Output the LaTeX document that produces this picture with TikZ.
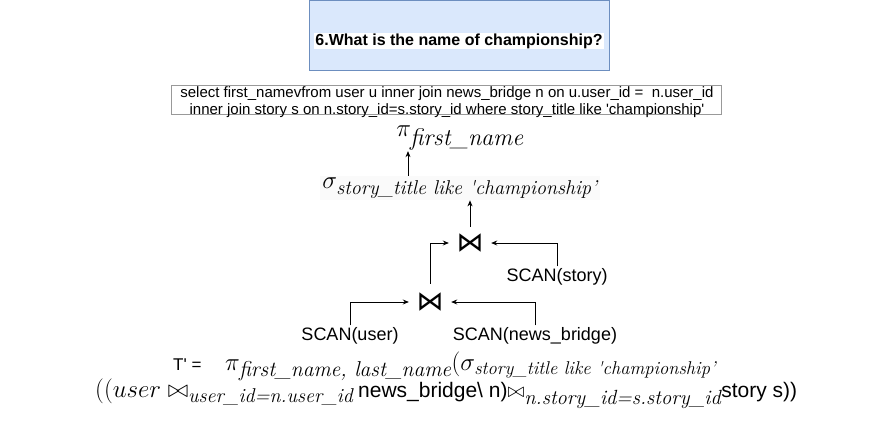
\documentclass[tikz,border=0pt]{standalone}
\usepackage{amssymb, amsmath}
\usepackage{fontspec}
\setsansfont{Liberation Sans}
\newfontfamily\joinfont{DejaVu Sans}
\usetikzlibrary{arrows.meta}
\definecolor{qfill}{HTML}{DAE8FC}
\definecolor{qline}{HTML}{6C8EBF}
% italic subscript text at a given size
\newcommand{\itsub}[2]{\hbox{\fontsize{#1}{#1}\selectfont\normalfont\itshape #2}}

\begin{document}
\begin{tikzpicture}[x=1pt, y=1pt,
  scanlbl/.style={font=\sffamily\fontsize{18}{20}\selectfont, inner sep=2pt},
  joinop/.style={font=\joinfont\fontsize{27}{27}\selectfont, inner sep=0pt, minimum width=42pt},
  flow/.style={-{Stealth[length=6pt, width=5pt]}, line width=0.8pt}]
\useasboundingbox (0,0) rectangle (891,-439);

%%%  nodes

% question
\node [draw=qline, fill=qfill, minimum width=300pt, minimum height=70pt] (qbox) at (459,-35) {};
\node [fill=white, inner sep=1pt, font=\sffamily\bfseries\fontsize{16}{18}\selectfont] (q) at (459,-41) {6.What is the name of championship?};

% sql
\node [draw=gray!80, minimum width=550pt, minimum height=29pt, inner sep=0pt] (sqlbox) at (446,-99.5) {};
\node [align=center, inner sep=0pt, font=\sffamily\fontsize{15}{16.5}\selectfont] (sql) at (447,-102) {select first\_namevfrom user u inner join news\_bridge n on u.user\_id = \ n.user\_id\\inner join story s on n.story\_id=s.story\_id where story\_title like \textquotesingle championship\textquotesingle};

% tree nodes
\node [inner sep=1pt] (proj) at (460,-138) {\fontsize{29}{30}\selectfont$\pi_{\itsub{24}{first\_name}}$};
\node [fill=gray!4, inner sep=2pt] (sel) at (460,-188) {\fontsize{26}{28}\selectfont$\sigma_{\itsub{20}{story\_title like \textquotesingle championship'}}$};
\node [joinop] (j2) at (470,-243) {⋈};
\node [joinop] (j1) at (430,-302) {⋈};
\node [scanlbl] (story) at (557,-277) {SCAN(story)};
\node [scanlbl] (user) at (350,-336) {SCAN(user)};
\node [scanlbl] (news) at (535,-336) {SCAN(news\_bridge)};

% expression
\node [anchor=base west, inner sep=0pt, font=\sffamily\fontsize{17}{20}\selectfont] (tlbl) at (173,-370) {T\textquotesingle{} =};
\node [anchor=base west, inner sep=0pt] (tform) at (225,-370) {\fontsize{28}{30}\selectfont$\pi_{\itsub{21.5}{first\_name, last\_name}}(\sigma_{\itsub{18.5}{story\_title like \textquotesingle championship'}}$};
\node [anchor=base west, inner sep=0pt] (jline) at (95,-397) {\fontsize{29}{30}\selectfont$((user \bowtie_{\itsub{20}{user\_id=n.user\_id}}$\,\sffamily\fontsize{21}{22}\selectfont news\_bridge\textbackslash{} n)$\bowtie_{\itsub{20.5}{n.story\_id=s.story\_id}}$story s))};

%%% edges

% selection to projection
\draw [flow] ([xshift=-52pt]sel.north) -- ([xshift=-52pt]proj.south);
\draw [flow, shorten <=7pt] (j2.north) -- (sel.south -| j2.north);

% joins
\draw [flow, shorten <=9pt] (j1.north) |- (j2.west);
\draw [flow] (story.north) |- (j2.east);
\draw [flow] (user.north) |- (j1.west);
\draw [flow] (news.north) |- (j1.east);
\end{tikzpicture}
\end{document}
